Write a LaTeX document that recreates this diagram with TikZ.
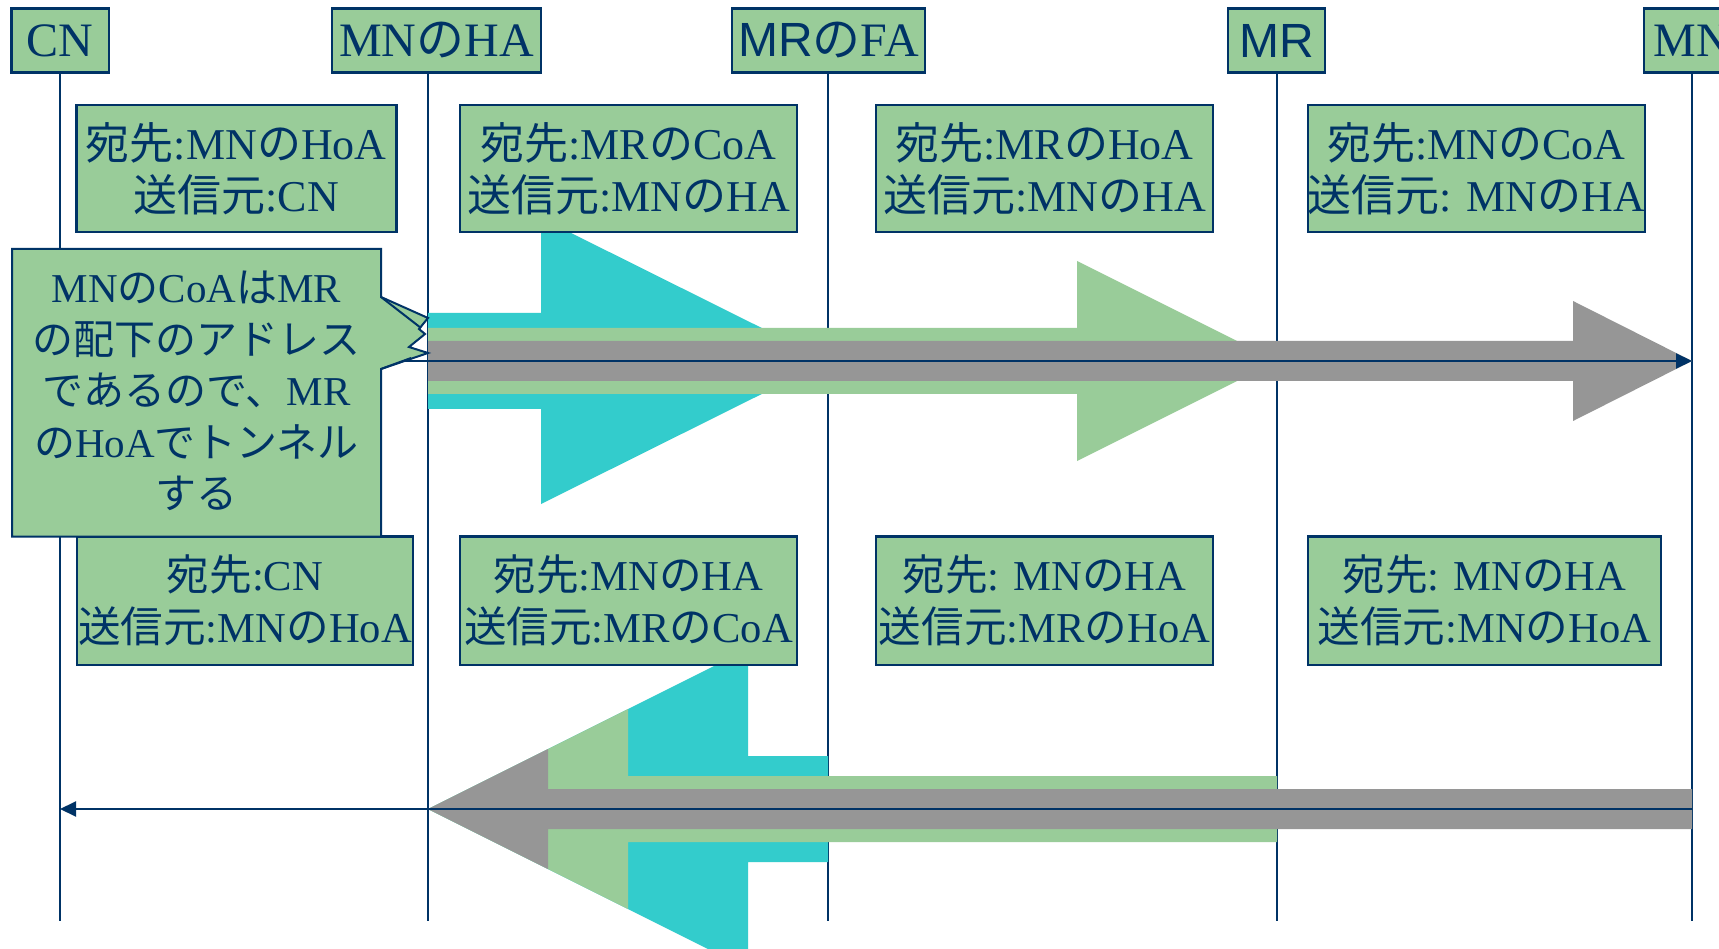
\documentclass[tikz,border=0pt]{standalone}
\usepackage{fontspec}
\setmainfont{Liberation Serif}
\newfontfamily\jpf{Noto Sans CJK JP}
\newfontfamily\arf{Liberation Sans}
\newcommand\J[1]{{\jpf #1}}
\newcommand\A[1]{{\arf #1}}
\usetikzlibrary{arrows.meta}
\definecolor{boxgreen}{HTML}{99CC99}
\definecolor{navy}{HTML}{003366}
\definecolor{cyanarrow}{HTML}{33CCCC}
\definecolor{grayarrow}{HTML}{969696}
\begin{document}
\begin{tikzpicture}[x=1pt,y=-1pt,
  hdr/.style={draw=navy, fill=boxgreen, line width=2.5pt, inner sep=0pt, text=navy,
    font=\fontsize{48}{56}\selectfont, minimum height=64pt},
  info/.style={draw=navy, fill=boxgreen, line width=2.5pt, inner sep=0pt, text=navy,
    align=center, font=\fontsize{44}{52}\selectfont, minimum height=127pt, minimum width=337pt},
  infolow/.style={info, font=\fontsize{42.6}{52}\selectfont, minimum height=128.5pt},
  life/.style={draw=navy, line width=2pt},
  msg/.style={draw=navy, line width=2pt, -{Triangle[length=16pt,width=15pt]}},
]
\useasboundingbox (0,0) rectangle (1719,949);
\clip (0,0) rectangle (1719,949);
\fill[white] (0,0) rectangle (1719,949);

% lifeline end points
\coordinate (cnT) at (60,72);   \coordinate (cnB) at (60,921);
\coordinate (haT) at (428,72);  \coordinate (haB) at (428,921);
\coordinate (faT) at (828,72);  \coordinate (faB) at (828,921);
\coordinate (mrT) at (1277,72); \coordinate (mrB) at (1277,921);
\coordinate (mnT) at (1692,72); \coordinate (mnB) at (1692,921);
\draw[life] (cnT) -- (cnB);
\draw[life] (haT) -- (haB);
\draw[life] (faT) -- (faB);
\draw[life] (mrT) -- (mrB);
\draw[life] (mnT) -- (mnB);

% upper tunnel arrows (to the right)
\fill[cyanarrow] (428,313) -- (541,313) -- (541,218) -- (828,361) -- (541,504) -- (541,409) -- (428,409) -- cycle;
\fill[boxgreen] (428,328) -- (1077,328) -- (1077,261) -- (1277,361) -- (1077,461) -- (1077,394) -- (428,394) -- cycle;
\fill[grayarrow] (428,341) -- (1573,341) -- (1573,301) -- (1692,361) -- (1573,421) -- (1573,381) -- (428,381) -- cycle;

% lower tunnel arrows (to the left)
\fill[cyanarrow] (828,756) -- (748,756) -- (748,649) -- (428,809) -- (748,969) -- (748,862) -- (828,862) -- cycle;
\fill[boxgreen] (1277,776) -- (628,776) -- (628,709) -- (428,809) -- (628,909) -- (628,842) -- (1277,842) -- cycle;
\fill[grayarrow] (1692,789) -- (548,789) -- (548,749) -- (428,809) -- (548,869) -- (548,829) -- (1692,829) -- cycle;

% message lines
\coordinate (m1s) at (60,361);  \coordinate (m1e) at (1692,361);
\coordinate (m2s) at (1692,809); \coordinate (m2e) at (60,809);
\draw[msg] (m1s) -- (m1e);
\draw[msg] (m2s) -- (m2e);

% info boxes
\node[info, minimum width=320pt] (b1) at (236.3,168.5) {\J{宛先}:MN\J{の}HoA\\\J{送信元}:CN};
\node[info] (b2) at (628.5,168.5) {\J{宛先}:MR\J{の}CoA\\\J{送信元}:MN\J{の}HA};
\node[info] (b3) at (1044.5,168.5) {\J{宛先}:MR\J{の}HoA\\\J{送信元}:MN\J{の}HA};
\node[info] (b4) at (1476.5,168.5) {\J{宛先}:MN\J{の}CoA\\\J{送信元}: MN\J{の}HA};
\node[infolow, minimum width=336pt] (b5) at (245,600.7) {\J{宛先}:CN\\\J{送信元}:MN\J{の}HoA};
\node[infolow] (b6) at (628.5,600.7) {\J{宛先}:MN\J{の}HA\\\J{送信元}:MR\J{の}CoA};
\node[infolow] (b7) at (1044.5,600.7) {\J{宛先}: MN\J{の}HA\\\J{送信元}:MR\J{の}HoA};
\node[infolow, minimum width=353pt] (b8) at (1484.5,600.7) {\J{宛先}: MN\J{の}HA\\\J{送信元}:MN\J{の}HoA};

% callout
\filldraw[fill=boxgreen, draw=navy, line width=2pt, line join=miter]
  (12,249) -- (381,249) -- (381,297) -- (428,318) -- (419,329) -- (425,334)
  -- (409,347) -- (428,353) -- (381,369) -- (381,536.5) -- (12,536.5) -- cycle;
\draw[navy, line width=2pt] (381,297) -- (421,328);
\draw[navy, line width=2pt] (381,369) -- (411,358);
\node[text=navy, align=center, inner sep=0pt, font=\fontsize{41}{51.5}\selectfont] (call) at (196.5,391)
  {MN\J{の}CoA\J{は}MR\\\J{の配下のアドレス}\\\J{であるので、}MR\\\J{の}HoA\J{でトンネル}\\\J{する}};

% headers
\node[hdr, minimum width=97.5pt] (hCN) at (60.25,40.5) {CN};
\node[hdr, minimum width=209pt] (hHA) at (436.5,40.5) {MN\J{の}HA};
\node[hdr, minimum width=193pt] (hFA) at (828.5,40.5) {\A{MR}\J{の}FA};
\node[hdr, minimum width=97pt] (hMR) at (1276.5,40.5) {\A{MR}};
\node[hdr, minimum width=96pt] (hMN) at (1692,40.5) {MN};
\end{tikzpicture}
\end{document}
